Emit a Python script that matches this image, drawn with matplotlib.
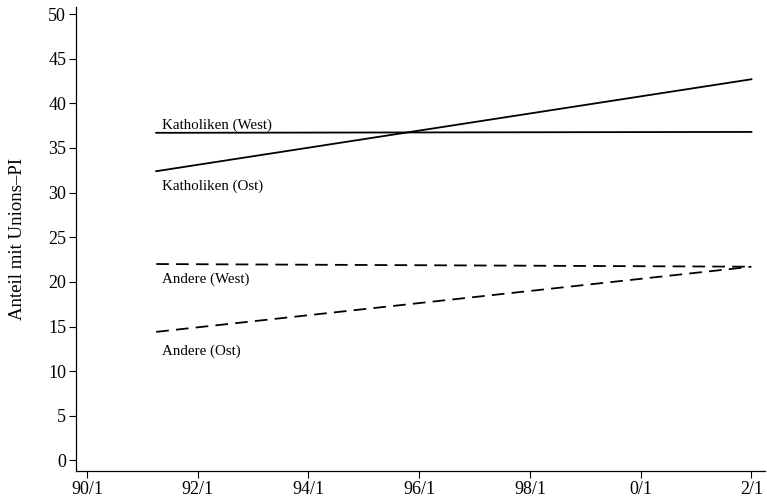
import matplotlib.pyplot as plt

# Zeitpunkte (Jahr als Dezimalzahl, Beginn 1991/4 bis 2002/1)
zeit = [1991.25, 2002.0]

# Anteil mit Unions-PI, linearer Trend je Gruppe
kath_west = [36.7, 36.8]
kath_ost = [32.4, 42.7]
andere_west = [22.0, 21.7]
andere_ost = [14.4, 21.7]

tick_pos = [1990, 1992, 1994, 1996, 1998, 2000, 2002]
tick_lab = ['90/1', '92/1', '94/1', '96/1', '98/1', '0/1', '2/1']

plt.rcParams['font.family'] = ['Liberation Serif', 'DejaVu Serif']

fig = plt.figure(figsize=(7.67, 4.98), dpi=100)
ax = fig.add_axes([0.099, 0.054, 0.898, 0.932])

ax.plot(zeit, kath_west, color='black', lw=1.3)
ax.plot(zeit, kath_ost, color='black', lw=1.3)
ax.plot(zeit, andere_west, color='black', lw=1.3, dashes=(7, 4))
ax.plot(zeit, andere_ost, color='black', lw=1.3, dashes=(7, 4))

# Beschriftungen direkt an den Linien
tx = 1991.35
ax.text(tx, 37.6, 'Katholiken (West)', fontsize=10.8, va='center')
ax.text(tx, 30.7, 'Katholiken (Ost)', fontsize=10.8, va='center')
ax.text(tx, 20.3, 'Andere (West)', fontsize=10.8, va='center')
ax.text(tx, 12.2, 'Andere (Ost)', fontsize=10.8, va='center')

ax.set_xlim(1989.8, 2002.24)
ax.set_ylim(-1.2, 50.8)
ax.set_xticks(tick_pos)
ax.set_xticklabels(tick_lab)
ax.set_yticks(range(0, 51, 5))
ax.tick_params(labelsize=13, length=5, width=0.8, pad=2)
ax.set_ylabel('Anteil mit Unions\u2013PI', fontsize=13.5, labelpad=16)

for s in ['top', 'right']:
    ax.spines[s].set_visible(False)
for s in ['left', 'bottom']:
    ax.spines[s].set_linewidth(0.9)

fig.savefig('out.png', dpi=100)
